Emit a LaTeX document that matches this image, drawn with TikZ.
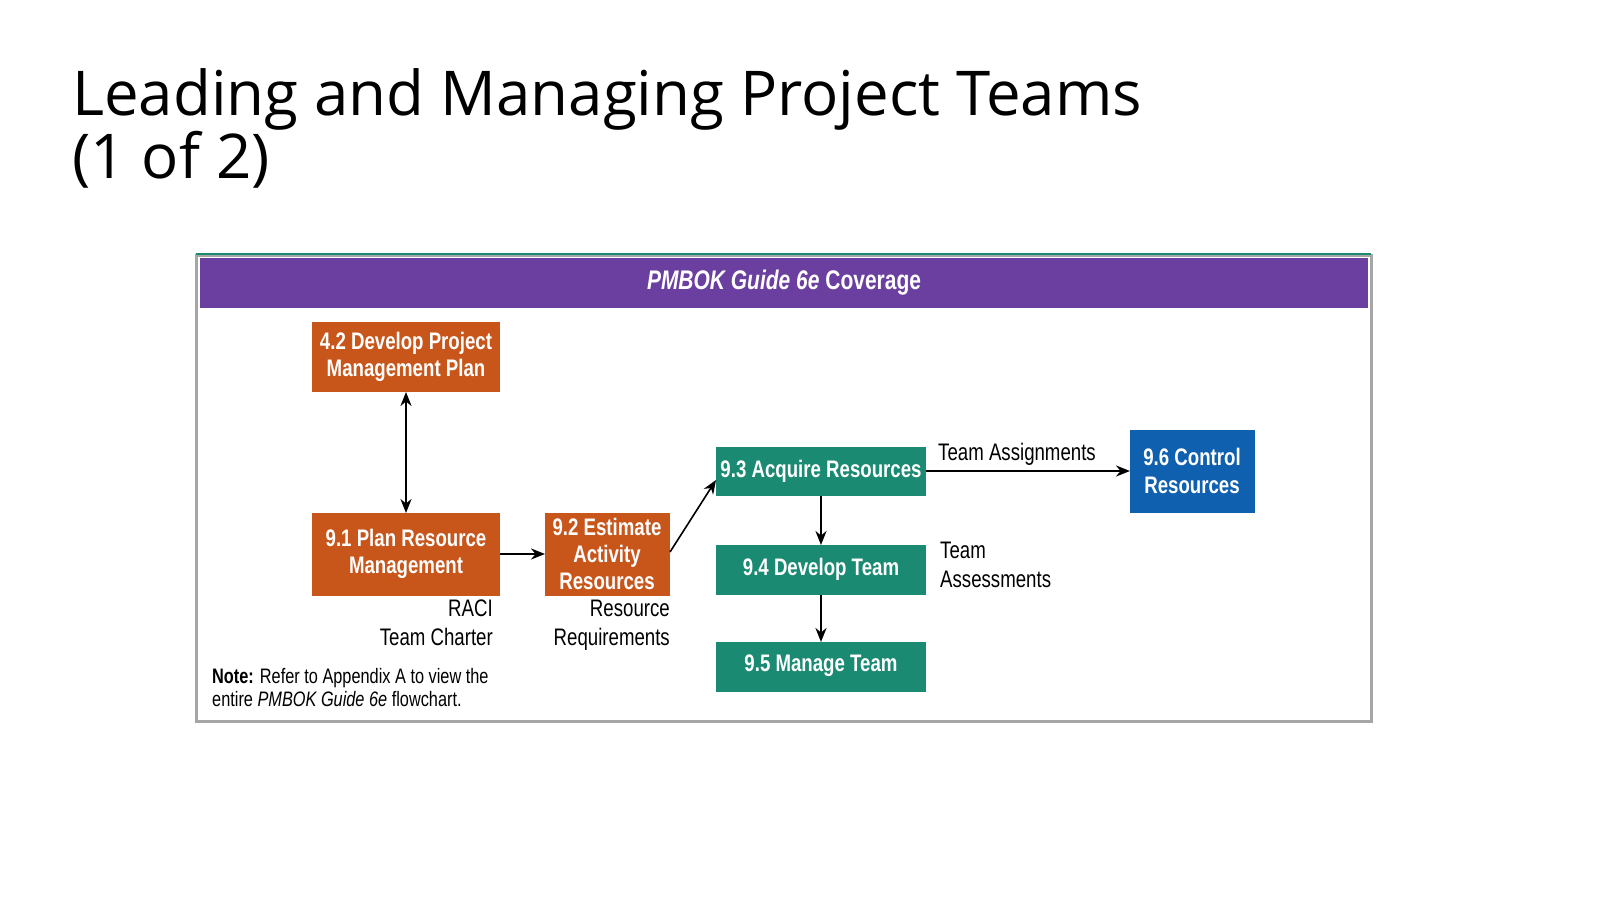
\documentclass[tikz,border=0pt]{standalone}
\usepackage{fontspec}
\setmainfont{Open Sans}
\newfontfamily\cond[FakeStretch=0.78]{Liberation Sans}
\usetikzlibrary{arrows.meta}
\definecolor{orng}{HTML}{C8561B}
\definecolor{teal2}{HTML}{1A8A72}
\definecolor{blu}{HTML}{1060B0}
\definecolor{purp}{HTML}{6B3FA0}
\begin{document}
\begin{tikzpicture}[x=1bp,y=-1bp,
 box/.style={draw=none,text=white,font=\cond\bfseries\fontsize{24}{27.5}\selectfont,align=center,inner sep=0},
 lab/.style={font=\cond\fontsize{24}{28.5}\selectfont,inner sep=0},
 arr/.style={-{Stealth[length=14bp,width=11bp]},line width=2.2bp}]
\useasboundingbox (0,0) rectangle (1600,899);
\fill[white] (0,0) rectangle (1600,899);
\node[anchor=north west,align=left,inner sep=0,font=\fontsize{62}{59}\selectfont] (title) at (72,68) {Leading and Managing Project Teams\\(1 of 2)};
\draw[gray!70,line width=3bp] (196,255) rectangle (1371,721);
\draw[teal2,line width=2bp] (196,254) -- (1371,254);
\fill[purp] (200,258) rectangle (1368,308);
\node[text=white,font=\cond\bfseries\fontsize{27}{30}\selectfont] (hdr) at (784,283) {\textit{PMBOK Guide 6e} Coverage};
\fill[orng] (312,322) rectangle (500,392); \node[box] (a) at (406,357) {4.2 Develop Project\\Management Plan};
\fill[orng] (312,513) rectangle (500,596); \node[box] (b) at (406,554) {9.1 Plan Resource\\Management};
\fill[orng] (545,513) rectangle (670,596); \node[box] (c) at (607,554) {9.2 Estimate\\Activity\\Resources};
\fill[teal2] (716,447) rectangle (926,496); \node[box] (d) at (821,471) {9.3 Acquire Resources};
\fill[teal2] (716,545) rectangle (926,595); \node[box] (e) at (821,569) {9.4 Develop Team};
\fill[teal2] (716,642) rectangle (926,692); \node[box] (f) at (821,666) {9.5 Manage Team};
\fill[blu] (1130,430) rectangle (1255,513); \node[box] (g) at (1192,471) {9.6 Control\\Resources};
\coordinate (at) at (406,392); \coordinate (ab) at (406,513);
\coordinate (br) at (500,554); \coordinate (cl) at (545,554);
\coordinate (cr) at (670,552); \coordinate (dl) at (716,480);
\coordinate (db) at (821,496); \coordinate (et) at (821,545);
\coordinate (eb) at (821,595); \coordinate (ft) at (821,642);
\coordinate (dr) at (926,471); \coordinate (gl) at (1130,471);
\draw[{Stealth[length=14bp,width=11bp]}-{Stealth[length=14bp,width=11bp]},line width=2.2bp] (at) -- (ab);
\draw[arr] (br) -- (cl);
\draw[arr,line width=1.6bp] (cr) -- (dl);
\draw[arr] (db) -- (et);
\draw[arr] (eb) -- (ft);
\draw[arr] (dr) -- (gl);
\node[lab,anchor=south] (ta) at (1017,466) {Team Assignments};
\node[lab,anchor=north west,align=left] (tas) at (940,542) {Team\\Assessments};
\node[lab,anchor=north east,align=right] (raci) at (493,600) {RACI\\Team Charter};
\node[lab,anchor=north east,align=right] (rr) at (670,600) {Resource\\Requirements};
\node[anchor=north west,align=left,inner sep=0,font=\cond\fontsize{21}{23}\selectfont] (note) at (212,668) {\textbf{Note:} Refer to Appendix A to view the\\entire \textit{PMBOK Guide 6e} flowchart.};
\end{tikzpicture}
\end{document}
